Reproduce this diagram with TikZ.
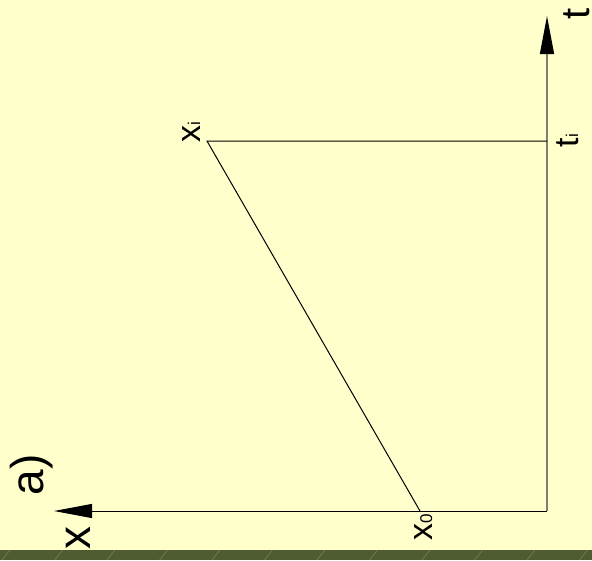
\documentclass[tikz,border=0pt]{standalone}
\usepackage{fontspec}
\setmainfont{Liberation Sans}
\usetikzlibrary{arrows.meta}
\definecolor{bgyellow}{HTML}{FFFFCC}
\definecolor{bandgreen}{HTML}{4F5B30}
\definecolor{axisgrey}{HTML}{7F7F70}
\begin{document}
\begin{tikzpicture}[
    x=1pt, y=-1pt,
    every node/.style={inner sep=0pt, outer sep=0pt, rotate=90, anchor=base west},
    biglabel/.style={font=\fontsize{46}{46}\selectfont},
    ptlabel/.style={font=\fontsize{34}{34}\selectfont},
    axisline/.style={line width=1pt, -{Triangle[length=38pt, width=14pt, color=black]}},
    thinline/.style={line width=1pt, black},
]
\useasboundingbox (0,0) rectangle (592,560);
% Background and bottom band
\fill[bgyellow] (0,0) rectangle (592,550);
\fill[bandgreen] (0,550) rectangle (592,560);
\foreach \k in {0,...,11}
  \draw[white, opacity=0.25, line width=0.5pt] (\k*52.5+2,560) -- (\k*52.5+10,550);

% Points
\coordinate (O) at (547,511);
\coordinate (X) at (54,511);
\coordinate (T) at (547,16);
\coordinate (xo) at (420,511);
\coordinate (xi) at (207,141);
\coordinate (ti) at (547,141);

% Axes
\draw[axisline, black] (O) -- (X);
\draw[axisline, axisgrey, line width=1.4pt] (O) -- (T);

% Path x0 -> xi -> ti
\draw[thinline] (xo) -- (xi) -- (ti);

% Labels
\node[biglabel] (lblx) at (90,549) {x};
\node[biglabel] (lbla) at (43,495) {a)};
\node[biglabel, font=\fontsize{40}{40}\selectfont] (lblt) at (589,19) {t};
\node[ptlabel] (lblxo) at (432,540) {x{\fontsize{17}{17}\selectfont 0}};
\node[ptlabel] (lblxi) at (200,142) {x{\fontsize{17}{17}\selectfont i}};
\node[ptlabel] (lblti) at (578,147) {t{\fontsize{17}{17}\selectfont i}};
\end{tikzpicture}
\end{document}
